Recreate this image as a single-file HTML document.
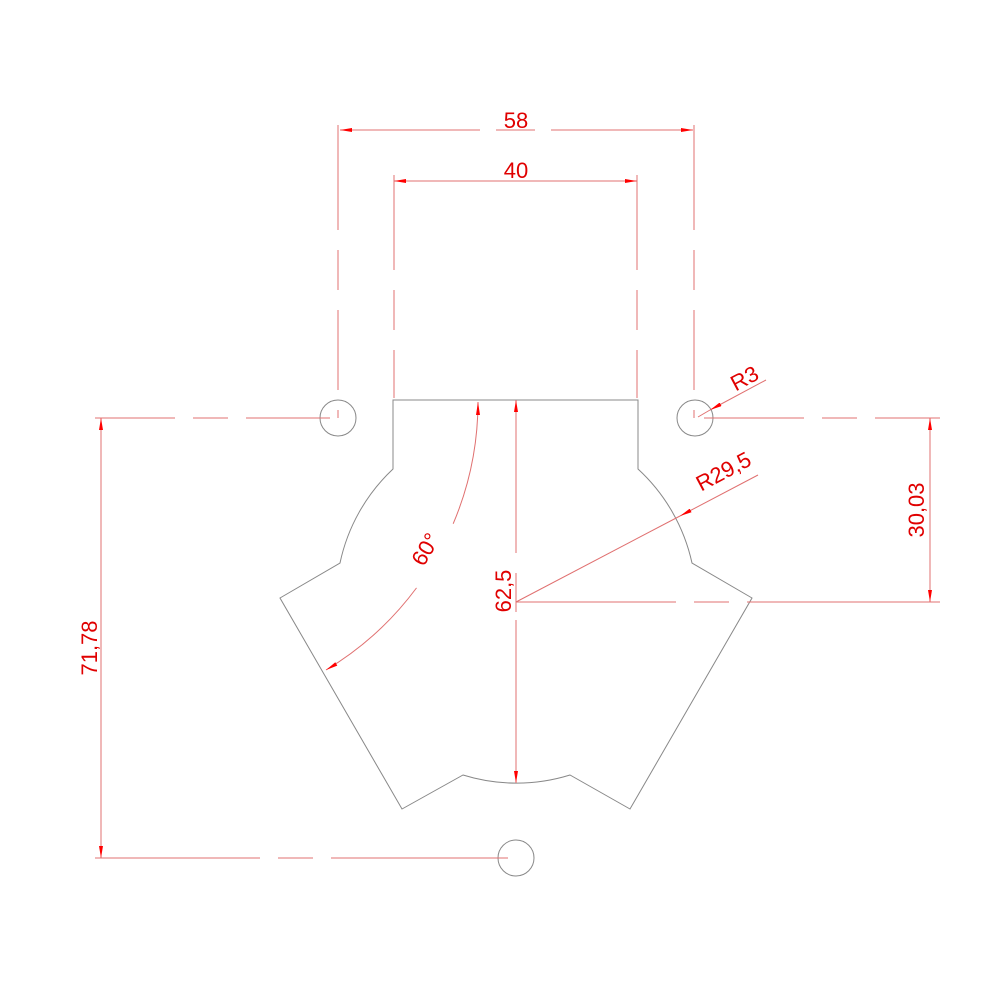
<!DOCTYPE html>
<html><head><meta charset="utf-8"><style>html,body{margin:0;padding:0;background:#fff}svg{display:block}</style></head>
<body>
<svg width="1000" height="1000" viewBox="0 0 1000 1000" xmlns="http://www.w3.org/2000/svg" font-family="Liberation Sans, Arial, sans-serif">
<defs>
<marker id="a" viewBox="0 0 12 4" refX="12" refY="2" markerWidth="12" markerHeight="4" markerUnits="userSpaceOnUse" orient="auto"><path d="M0,0 L12,2 L0,4 z" fill="#f00"/></marker>
</defs>
<g stroke="#888" stroke-width="1" fill="none">
<path d="M393,400 H638 V469 A180,180 0 0 1 692,563 L752,598 L630,809 L570,775 A180,180 0 0 1 463,775 L402,809 L280,598 L340,563 A180,180 0 0 1 393,469 Z"/>
<circle cx="338" cy="418" r="18"/>
<circle cx="695" cy="418" r="18"/>
<circle cx="516" cy="858" r="18"/>
</g>
<g stroke="#e07070" stroke-width="1" fill="none">
<path d="M338,125 V418" stroke-dasharray="105,20,40,20,80,20,200"/>
<path d="M694,125 V418" stroke-dasharray="105,20,40,20,80,20,200"/>
<path d="M394,175 V398" stroke-dasharray="95,20,40,20,55,20,200"/>
<path d="M637,175 V398" stroke-dasharray="95,20,40,20,55,20,200"/>
<path d="M95,418 H330" stroke-dasharray="80,18,35,18,200"/>
<path d="M95,858 H508" stroke-dasharray="165,18,35,18,300"/>
<path d="M704,418 H940" stroke-dasharray="100,18,35,18,200"/>
<path d="M516,602 H940" stroke-dasharray="160,18,35,18,300"/>
<!-- 58 -->
<path d="M400,130 H480 M496,130 H535 M551,130 H640"/>
<path d="M400,130 H340" marker-end="url(#a)"/>
<path d="M640,130 H693" marker-end="url(#a)"/>
<!-- 40 -->
<path d="M450,181 H394" marker-end="url(#a)"/>
<path d="M580,181 H637" marker-end="url(#a)"/>
<path d="M450,181 H580"/>
<!-- 71,78 -->
<path d="M101,600 V418" marker-end="url(#a)"/>
<path d="M101,680 V858" marker-end="url(#a)"/>
<path d="M101,600 V680"/>
<!-- 30,03 -->
<path d="M930,510 V418" marker-end="url(#a)"/>
<path d="M930,510 V602" marker-end="url(#a)"/>
<!-- 62,5 -->
<path d="M516,553 V400" marker-end="url(#a)"/>
<path d="M516,620 V783" marker-end="url(#a)"/>
<path d="M516,573 V612"/>
<!-- R29.5 -->
<path d="M758,475 L680,516" marker-end="url(#a)"/>
<path d="M680,516 L516,602"/>
<!-- R3 -->
<path d="M766,380 L710,410" marker-end="url(#a)"/>
<path d="M710,410 L698,417"/>
<!-- 60 deg arc -->
<path d="M326,670 A313,313 0 0 0 478,402" stroke-dasharray="123,74,400"/>
</g>
<g fill="#f00">
<path d="M478,402 L476,415 L480,415 Z"/>
<path d="M326,670 L335.3,662.2 L337.3,665.6 Z"/>
</g>
<g fill="#e00000" font-size="22">
<text x="516" y="128" text-anchor="middle">58</text>
<text x="516" y="178" text-anchor="middle">40</text>
<text transform="translate(97,648) rotate(-90)" text-anchor="middle">71,78</text>
<text transform="translate(924,510) rotate(-90)" text-anchor="middle">30,03</text>
<text transform="translate(511,591) rotate(-90)" text-anchor="middle">62,5</text>
<text transform="translate(727,478) rotate(-28)" text-anchor="middle">R29,5</text>
<text transform="translate(748,385) rotate(-28)" text-anchor="middle">R3</text>
<text transform="translate(432,553) rotate(-60)" text-anchor="middle">60°</text>
</g>
</svg>
</body></html>
